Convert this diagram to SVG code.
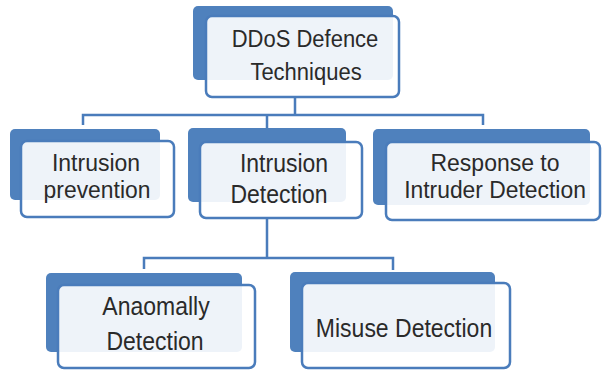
<svg xmlns="http://www.w3.org/2000/svg" width="602" height="371" viewBox="0 0 602 371">
<style>
.back{fill:#4f81bd;}
.front{fill:#ffffff;fill-opacity:0.9;stroke:#4a7cbb;stroke-width:2.5;}
.lbl{font-family:"Liberation Sans",Arial,sans-serif;font-size:23px;fill:#2a2a2a;text-anchor:middle;}
.sm{font-size:22px;}
.conn{fill:none;stroke:#4a7cbb;stroke-width:2.5;}
</style>
<rect width="602" height="371" fill="#ffffff"/>
<g id="connectors">
<path class="conn" d="M295,97 V115 M83,125 V115 H483 V125 M267,115 V128"/>
<path class="conn" d="M267,218 V258 M144,269 V258 H393 V270"/>
</g>
<g id="node-root">
<rect class="back" x="193" y="6" width="200" height="74" rx="5"/>
<rect class="front" x="206" y="16" width="193" height="81" rx="6"/>
<text class="lbl sm" transform="translate(305,47) scale(1,1.12)">DDoS Defence</text>
<text class="lbl sm" transform="translate(306,80) scale(1,1.12)">Techniques</text>
</g>
<g id="node-prevention">
<rect class="back" x="10" y="129" width="150" height="71" rx="5"/>
<rect class="front" x="21" y="141" width="153" height="76" rx="6"/>
<text class="lbl" transform="translate(96,171) scale(1,1.08)">Intrusion</text>
<text class="lbl sm" transform="translate(97,198) scale(1.04,1.1)">prevention</text>
</g>
<g id="node-detection">
<rect class="back" x="188" y="128" width="158" height="74" rx="5"/>
<rect class="front" x="200" y="142" width="162" height="76" rx="6"/>
<text class="lbl" transform="translate(284,172) scale(1,1.12)">Intrusion</text>
<text class="lbl" transform="translate(279,203) scale(1,1.12)">Detection</text>
</g>
<g id="node-response">
<rect class="back" x="373" y="129" width="217" height="76" rx="5"/>
<rect class="front" x="386" y="142" width="214" height="78" rx="6"/>
<text class="lbl" transform="translate(495,171) scale(1,1.08)">Response to</text>
<text class="lbl sm" transform="translate(495,198) scale(1.04,1.1)">Intruder Detection</text>
</g>
<g id="node-anomaly">
<rect class="back" x="46" y="273" width="196" height="79" rx="5"/>
<rect class="front" x="58" y="285" width="197" height="83" rx="6"/>
<text class="lbl" transform="translate(156,315) scale(1,1.12)">Anaomally</text>
<text class="lbl" transform="translate(155,350) scale(1,1.12)">Detection</text>
</g>
<g id="node-misuse">
<rect class="back" x="290" y="272" width="205" height="80" rx="5"/>
<rect class="front" x="302" y="283" width="208" height="85" rx="6"/>
<text class="lbl" transform="translate(404,337) scale(1,1.12)">Misuse Detection</text>
</g>
</svg>
